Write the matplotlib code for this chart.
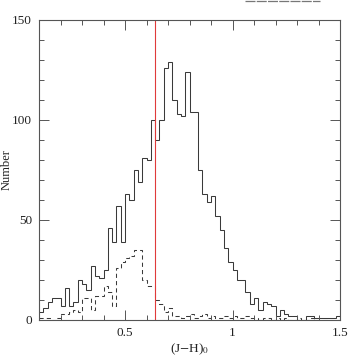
import numpy as np
import matplotlib
matplotlib.use("Agg")
import matplotlib.pyplot as plt
from matplotlib.ticker import MultipleLocator
from matplotlib.lines import Line2D

bin_start = 0.10
bin_width = 0.02

solid_counts = [4, 6, 9, 11, 11, 7, 16, 7, 9, 20,
                18, 15, 27, 22, 21, 25, 46, 39, 57, 39,
                63, 60, 75, 69, 81, 80, 100, 90, 100, 126,
                129, 110, 103, 102, 124, 104, 104, 75, 63, 59,
                62, 52, 45, 36, 29, 25, 20, 20, 14, 8,
                11, 5, 9, 8, 7, 2, 5, 3, 2, 2,
                0, 0, 2, 2, 1, 1, 1, 1, 1, 2]

dashed_counts = [1, 1, 1, 0, 1, 3, 3, 4, 5, 4,
                 11, 11, 5, 12, 12, 17, 14, 7, 26, 29,
                 31, 32, 35, 35, 20, 17, 17, 10, 8, 4,
                 6, 2, 2, 1, 2, 3, 1, 2, 3, 1,
                 2, 1, 1, 2, 1, 2, 1, 1, 2, 1,
                 1, 0, 1, 1, 0, 1, 0, 1, 0, 0,
                 1, 0, 0, 1, 0, 0, 0, 0, 0, 0]

cut_value = 0.64

x_label = r"(J$-$H)$_0$"
y_label = "Number"

plt.rcParams['font.family'] = ['Liberation Serif', 'DejaVu Serif']
plt.rcParams['mathtext.fontset'] = 'stix'

fig = plt.figure(figsize=(3.6, 3.6), dpi=100)
ax = fig.add_axes([39/360, 1-320/360, (340-39)/360, 300/360])

edges = bin_start + bin_width*np.arange(len(solid_counts)+1)
lc = '#3a3a3a'
ax.stairs(solid_counts, edges, color=lc, lw=0.75, baseline=None)
ax.stairs(dashed_counts, edges, color=lc, lw=0.75, ls=(0, (4, 3)), baseline=None)
ax.axvline(cut_value, color='#e03a3a', lw=0.8)

ax.set_xlim(0.1, 1.5)
ax.set_ylim(0, 150)
ax.xaxis.set_major_locator(MultipleLocator(0.5))
ax.xaxis.set_minor_locator(MultipleLocator(0.1))
ax.yaxis.set_major_locator(MultipleLocator(50))
ax.yaxis.set_minor_locator(MultipleLocator(10))
ax.set_xticks([0.5, 1.0, 1.5])
ax.set_xticklabels(['0.5', '1', '1.5'])
ax.tick_params(which='both', direction='in', top=True, right=True,
               color='#555555', labelsize=9.5, labelcolor='#222222')
ax.tick_params(which='major', length=7, width=0.7, pad=5)
ax.tick_params(which='minor', length=3.5, width=0.7)
for s in ax.spines.values():
    s.set_linewidth(0.8)
    s.set_color('#555555')

ax.set_xlabel(x_label, fontsize=9.5, color='#222222', labelpad=2)
ax.set_ylabel(y_label, fontsize=9, color='#222222')
ax.yaxis.set_label_coords(-0.088, 0.5)

fig.add_artist(Line2D([245/360, 320/360], [359.4/360, 359.4/360],
                      transform=fig.transFigure, color='#777777', lw=0.9,
                      ls=(0, (8, 1))))

fig.savefig('out.png', dpi=100)
